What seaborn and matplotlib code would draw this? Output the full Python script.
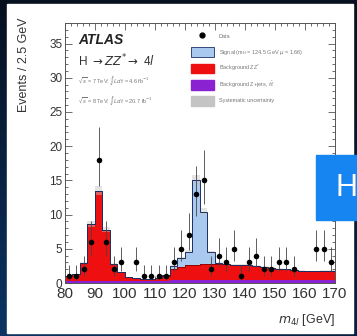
import numpy as np
import matplotlib
matplotlib.use("Agg")
import matplotlib.pyplot as plt
from matplotlib.patches import Rectangle, Patch
from matplotlib.lines import Line2D
from matplotlib.ticker import MultipleLocator
import seaborn as sns

sns.set_theme(style="ticks")
plt.rcParams['font.family'] = ['Liberation Sans', 'DejaVu Sans']

# 2.5 GeV bins from 80 to 170
edges = np.arange(80, 172.5, 2.5)
centers = edges[:-1] + 1.25

# observed events per bin
data_counts = [1, 1, 2, 6, 18, 6, 2, 3, 0, 3, 1, 1, 1, 1, 3, 5, 7, 13,
               15, 2, 4, 3, 5, 1, 3, 4, 2, 2, 3, 3, 2, 0, 0, 5, 5, 3]

# background Z+jets, ttbar (purple)
bkg_zjets = [0.3] * 14 + [0.45] * 22

# background ZZ* (red), on top of Z+jets
bkg_zz = [0.7, 1.0, 2.6, 8.3, 13.2, 7.5, 2.5, 1.3, 0.6, 0.4, 0.3, 0.3,
          0.4, 0.7, 1.65, 1.95, 2.15, 2.25, 2.35, 2.35, 2.35, 2.35, 2.25,
          2.25, 2.15, 2.05, 1.85, 1.75, 1.65, 1.55, 1.45, 1.35, 1.25, 1.25,
          1.35, 1.35]

# signal m_H = 124.5 GeV (light blue), on top of backgrounds
signal = [0] * 13 + [0.1, 0.4, 1.2, 2.0, 12.4, 7.6, 1.7, 0.1] + [0] * 15

zj = np.array(bkg_zjets)
red_top = zj + np.array(bkg_zz)
total = red_top + np.array(signal)

fig = plt.figure(figsize=(3.57, 3.36), dpi=100)

# screenshot background: dark navy gradient + white panel
bg = fig.add_axes([0, 0, 1, 1], zorder=-5)
ty = np.linspace(0, 1, 200)[:, None]
tx = np.linspace(0, 1, 200)[None, :]
top_c = np.array([6, 16, 30]) / 255
bot_c = np.array([12, 52, 100]) / 255
k = (ty * (1 - 0.55 * tx))[..., None]
grad = top_c + (bot_c - top_c) * k
bg.imshow(grad, extent=[0, 357, 336, 0], aspect='auto')
bg.add_patch(Rectangle((7, 4), 346, 329, color='white'))
bg.set_xlim(0, 357)
bg.set_ylim(336, 0)
bg.axis('off')

ax = fig.add_axes([65 / 357, 1 - 283 / 336, 270 / 357, 260 / 336], zorder=1)
ax.set_facecolor('white')

c_sig = '#a9c9ee'
c_zz = '#ee1010'
c_zj = '#8a22d2'
c_sys = '#c4c4c4'

ax.stairs(zj, edges, baseline=0, fill=True, color=c_zj, lw=0)
ax.stairs(red_top, edges, baseline=zj, fill=True, color=c_zz, lw=0)
ax.stairs(total, edges, baseline=red_top, fill=True, color=c_sig, lw=0)
ax.stairs(total * 1.05, edges, baseline=total * 0.95, fill=True,
          color=c_sys, alpha=0.45, lw=0)
ax.stairs(red_top, edges, color='#6a0000', lw=0.5)
ax.stairs(total, edges, color='#1c2f63', lw=0.7)

# data with poisson-like error bars
n = np.array(data_counts, dtype=float)
mask = n > 0
up = np.sqrt(n + 0.25) + 0.5
lo = np.sqrt(n + 0.25) - 0.5
ax.errorbar(centers[mask], n[mask], yerr=[lo[mask], up[mask]], fmt='none',
            ecolor='#444444', elinewidth=0.6, capsize=0, zorder=4)
sns.scatterplot(x=centers[mask], y=n[mask], ax=ax, color='black', s=16,
                edgecolor='black', linewidth=0, zorder=5)

ax.set_xlim(80, 170)
ax.set_ylim(0, 38)
ax.xaxis.set_major_locator(MultipleLocator(10))
ax.xaxis.set_minor_locator(MultipleLocator(2))
ax.yaxis.set_major_locator(MultipleLocator(5))
ax.yaxis.set_minor_locator(MultipleLocator(1))
ax.tick_params(which='both', direction='in', top=True, right=True,
               colors='#555555', width=0.6, labelcolor='#333333')
ax.tick_params(which='major', length=5)
ax.tick_params(which='minor', length=2.5)
ax.tick_params(axis='x', labelsize=11, pad=3)
ax.tick_params(axis='y', labelsize=8.5, pad=2)
for s in ax.spines.values():
    s.set_color('#555555')
    s.set_linewidth(0.7)

fig.text(24 / 357, 1 - 17 / 336, 'Events / 2.5 GeV', rotation=90,
         ha='center', va='top', fontsize=9, color='#333333')
fig.text(335 / 357, 1 - 320 / 336, r'$m_{4l}$ [GeV]', ha='right',
         va='center', fontsize=9, color='#333333')

ax.text(0.048, 0.935, 'ATLAS', transform=ax.transAxes, fontsize=10,
        fontweight='bold', fontstyle='italic', va='center', color='#222222')
ax.text(0.048, 0.854, r'H $\rightarrow ZZ^{*} \rightarrow$ 4$l$',
        transform=ax.transAxes, fontsize=8.5, va='center', color='#333333')
ax.text(0.048, 0.777, r'$\sqrt{s}$ = 7 TeV: $\int Ldt$ = 4.6 fb$^{-1}$',
        transform=ax.transAxes, fontsize=4, va='center', color='#777777')
ax.text(0.048, 0.70, r'$\sqrt{s}$ = 8 TeV: $\int Ldt$ = 20.7 fb$^{-1}$',
        transform=ax.transAxes, fontsize=4, va='center', color='#777777')

handles = [
    Line2D([], [], marker='o', color='black', ls='none', markersize=3.5),
    Patch(facecolor=c_sig, edgecolor='#1c2f63', lw=0.6),
    Patch(facecolor=c_zz, edgecolor=c_zz),
    Patch(facecolor=c_zj, edgecolor=c_zj),
    Patch(facecolor=c_sys, edgecolor=c_sys),
]
labels = ['Data',
          r'Signal (m$_H$ = 124.5 GeV $\mu$ = 1.66)',
          r'Background ZZ$^{*}$',
          r'Background Z+jets, $t\bar{t}$',
          'Systematic uncertainty']
leg = ax.legend(handles, labels, loc='upper left',
                bbox_to_anchor=(0.467, 0.967), frameon=False, fontsize=4,
                handlelength=4.1, handleheight=2.35, labelspacing=1.07,
                handletextpad=0.9, borderpad=0, borderaxespad=0)
for t in leg.get_texts():
    t.set_color('#777777')

# blue "H" tile overlapping the right edge
ov = fig.add_axes([0, 0, 1, 1], zorder=10)
ov.set_xlim(0, 357)
ov.set_ylim(336, 0)
ov.axis('off')
ov.patch.set_alpha(0)
ov.add_patch(Rectangle((316, 155), 41, 65, color='#1685f2'))
ov.text(336, 188, 'H', color='white', fontsize=22, ha='left', va='center',
        family=['Liberation Sans', 'DejaVu Sans'])

fig.savefig('out.png', dpi=100)
